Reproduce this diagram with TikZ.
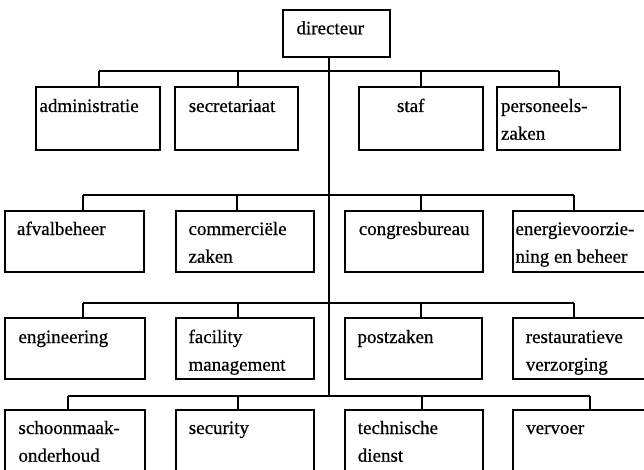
\documentclass[tikz,border=0pt]{standalone}
\usepackage{fontspec}
\setmainfont{Liberation Serif}[FakeBold=0.6]
% one box of the chart, given by its corners: name, x1, y1, x2, y2
\newcommand\orgbox[5]{%
  \node[orgunit, minimum width={#4-#2}, minimum height={#5-#3}]
    (#1) at ({(#2+#4)/2},{(#3+#5)/2}) {};}
% two lines of text, first baseline on the node's baseline
\newcommand\twolines[2]{\parbox[t]{160pt}{\raggedright #1\\#2}}
\begin{document}
\begin{tikzpicture}[x=1pt,y=-1pt,
  orgunit/.style={draw, rectangle, line width=2pt, inner sep=0pt, outer sep=0pt},
  lbl/.style={anchor=base west, inner sep=0pt, outer sep=0pt,
    font=\fontsize{19}{27.7}\selectfont},
  wire/.style={line width=2pt}]
\useasboundingbox (0,0) rectangle (644,470);
\fill[white] (0,0) rectangle (644,470);
\clip (0,0) rectangle (644,470);

% boxes
\orgbox{dir}{283}{10}{390}{57}
\orgbox{adm}{36}{87}{160}{150}
\orgbox{sec}{175}{87}{298}{150}
\orgbox{staf}{359}{87}{483}{150}
\orgbox{pers}{497}{87}{620}{150}
\orgbox{afv}{5}{211}{144}{272}
\orgbox{com}{176}{211}{314}{272}
\orgbox{cgb}{345}{211}{483}{272}
\orgbox{ene}{513}{211}{652}{272}
\orgbox{eng}{5}{318}{145}{379}
\orgbox{fac}{176}{318}{314}{379}
\orgbox{post}{345}{318}{482}{379}
\orgbox{rest}{513}{318}{652}{379}
\orgbox{scho}{5}{410}{145}{482}
\orgbox{secu}{176}{410}{314}{482}
\orgbox{tech}{345}{410}{483}{482}
\orgbox{verv}{513}{410}{652}{482}

% texts
\node[lbl] (dir-t) at (296.5,34.3) {directeur};
\node[lbl] (adm-t) at (39.5,112) {administratie};
\node[lbl] (sec-t) at (188.8,112) {secretariaat};
\node[lbl] (staf-t) at (397,112) {staf};
\node[lbl] (pers-t) at (501,112) {\twolines{personeels-}{zaken}};
\node[lbl] (afv-t) at (17,235) {afvalbeheer};
\node[lbl] (com-t) at (188.5,235) {\twolines{commerciële}{zaken}};
\node[lbl] (cgb-t) at (358.8,235) {congresbureau};
\node[lbl] (ene-t) at (515.5,235) {\twolines{energievoorzie-}{ning en beheer}};
\node[lbl] (eng-t) at (18.5,343) {engineering};
\node[lbl] (fac-t) at (188.5,343) {\twolines{facility}{management}};
\node[lbl] (post-t) at (357.5,343) {postzaken};
\node[lbl] (rest-t) at (525.8,343) {\twolines{restauratieve}{verzorging}};
\node[lbl] (scho-t) at (18.5,434) {\twolines{schoonmaak-}{onderhoud}};
\node[lbl] (secu-t) at (188.8,434) {security};
\node[lbl] (tech-t) at (357.8,434) {\twolines{technische}{dienst}};
\node[lbl] (verv-t) at (526.2,434) {vervoer};

% junction points on the four horizontal buses
\coordinate (r1a) at (99,71);   \coordinate (r1b) at (238,71);
\coordinate (r1c) at (421,71);  \coordinate (r1d) at (559,71);
\coordinate (r2a) at (83,195);  \coordinate (r2b) at (237,195);
\coordinate (r2c) at (421,195); \coordinate (r2d) at (574,195);
\coordinate (r3a) at (83,303);  \coordinate (r3b) at (238,303);
\coordinate (r3c) at (421,303); \coordinate (r3d) at (574,303);
\coordinate (r4a) at (68,396);  \coordinate (r4b) at (238,396);
\coordinate (r4c) at (422,396); \coordinate (r4d) at (590,396);
\coordinate (trunk) at (329,396);

% vertical trunk from the director down to the last bus
\draw[wire] (dir.south -| trunk) -- (trunk);

% buses
\draw[wire] (r1a) -- (r1d);
\draw[wire] (r2a) -- (r2d);
\draw[wire] (r3a) -- (r3d);
\draw[wire] (r4a) -- (r4d);

% drops to the boxes
\draw[wire] (r1a) -- (r1a |- adm.north);
\draw[wire] (r1b) -- (r1b |- sec.north);
\draw[wire] (r1c) -- (r1c |- staf.north);
\draw[wire] (r1d) -- (r1d |- pers.north);
\draw[wire] (r2a) -- (r2a |- afv.north);
\draw[wire] (r2b) -- (r2b |- com.north);
\draw[wire] (r2c) -- (r2c |- cgb.north);
\draw[wire] (r2d) -- (r2d |- ene.north);
\draw[wire] (r3a) -- (r3a |- eng.north);
\draw[wire] (r3b) -- (r3b |- fac.north);
\draw[wire] (r3c) -- (r3c |- post.north);
\draw[wire] (r3d) -- (r3d |- rest.north);
\draw[wire] (r4a) -- (r4a |- scho.north);
\draw[wire] (r4b) -- (r4b |- secu.north);
\draw[wire] (r4c) -- (r4c |- tech.north);
\draw[wire] (r4d) -- (r4d |- verv.north);
\end{tikzpicture}
\end{document}
